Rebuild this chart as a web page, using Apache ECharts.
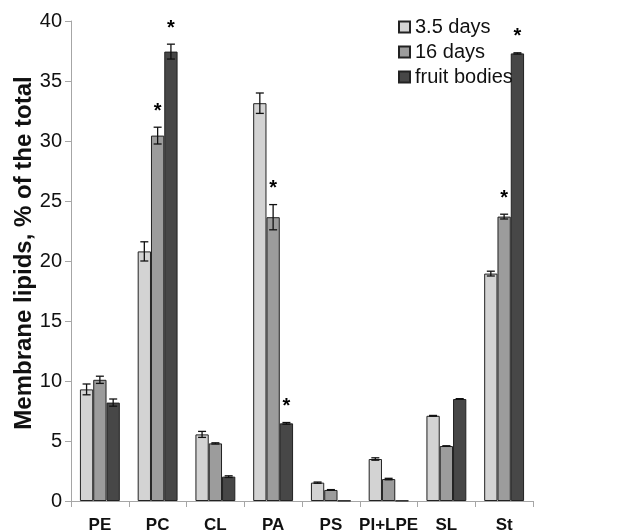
<!DOCTYPE html>
<html>
<head>
<meta charset="utf-8">
<script src="https://cdn.jsdelivr.net/npm/echarts@6/dist/echarts.min.js"></script>
<style>
html,body{margin:0;padding:0;background:#fff;}
#chart{width:619px;height:531px;}
</style>
</head>
<body>
<div id="chart"></div>
<script>
const categories = ['PE', 'PC', 'CL', 'PA', 'PS', 'PI+LPE', 'SL', 'St'];
const seriesNames = ['3.5 days', '16 days', 'fruit bodies'];
const yTitle = 'Membrane lipids, % of the total';
const days35 = [9.3, 20.8, 5.55, 33.15, 1.53, 3.5, 7.1, 18.95];
const err35 = [0.45, 0.8, 0.25, 0.85, 0.05, 0.1, 0.03, 0.2];
const days16 = [10.1, 30.45, 4.8, 23.65, 0.92, 1.83, 4.58, 23.7];
const err16 = [0.3, 0.7, 0.05, 1.05, 0.03, 0.06, 0.02, 0.2];
const fruit = [8.2, 37.45, 2.03, 6.47, 0.03, 0.03, 8.5, 37.3];
const errFruit = [0.3, 0.62, 0.07, 0.07, 0, 0, 0.03, 0.05];
const star35 = [0, 0, 0, 0, 0, 0, 0, 0];
const star16 = [0, 1, 0, 1, 0, 0, 0, 1];
const starFruit = [0, 1, 0, 1, 0, 0, 0, 1];
const yTicks = [0, 5, 10, 15, 20, 25, 30, 35, 40];

const values = [days35, days16, fruit];
const errors = [err35, err16, errFruit];
const stars = [star35, star16, starFruit];
const colors = ['#d3d3d3', '#9c9c9c', '#474747'];
const BAR_W = 13.3;
const FONT = '"Liberation Sans", Arial, sans-serif';

const errData = [];
values.forEach((arr, s) => {
  arr.forEach((v, i) => {
    errData.push([i, v, errors[s][i], s, stars[s][i]]);
  });
});

const chart = echarts.init(document.getElementById('chart'), null, {renderer: 'canvas'});

const barSeries = values.map((arr, s) => ({
  name: seriesNames[s],
  type: 'bar',
  data: arr,
  barWidth: BAR_W,
  barGap: '0%',
  itemStyle: {color: colors[s], borderColor: '#222', borderWidth: 1},
  emphasis: {disabled: true},
  animation: false
}));

const errSeries = {
  type: 'custom',
  name: 'err',
  data: errData,
  encode: {x: 0, y: 1},
  z: 5,
  animation: false,
  silent: true,
  renderItem: function (params, api) {
    const x = api.value(0), v = api.value(1), e = api.value(2), s = api.value(3), star = api.value(4);
    const c = api.coord([x, v]);
    const top = api.coord([x, v + e]);
    const bot = api.coord([x, v - e]);
    const cx = c[0] + (s - 1) * BAR_W;
    const children = [];
    const st = {stroke: '#111', lineWidth: 1.3};
    if (e > 0) {
      children.push({type: 'line', shape: {x1: cx, y1: top[1], x2: cx, y2: bot[1]}, style: st});
      children.push({type: 'line', shape: {x1: cx - 4, y1: top[1], x2: cx + 4, y2: top[1]}, style: st});
      children.push({type: 'line', shape: {x1: cx - 4, y1: bot[1], x2: cx + 4, y2: bot[1]}, style: st});
    }
    if (star) {
      children.push({
        type: 'text',
        style: {
          text: '*', x: cx, y: top[1] - 16,
          align: 'center', verticalAlign: 'middle',
          font: 'bold 20px ' + FONT, fill: '#000'
        }
      });
    }
    return {type: 'group', children: children};
  }
};

chart.setOption({
  backgroundColor: '#fff',
  animation: false,
  grid: {left: 71, right: 86, top: 21, bottom: 30, containLabel: false, outerBoundsMode: 'none'},
  graphic: [{
    type: 'text',
    x: 24,
    y: 253,
    rotation: Math.PI / 2,
    silent: true,
    style: {
      text: yTitle,
      align: 'center',
      verticalAlign: 'middle',
      font: 'bold 24px ' + FONT,
      fill: '#111'
    }
  }],
  legend: {
    data: seriesNames,
    orient: 'vertical',
    left: 393,
    top: 12,
    itemWidth: 11,
    itemHeight: 11,
    itemGap: 5,
    icon: 'rect',
    textStyle: {fontSize: 20, fontFamily: FONT, color: '#111'},
    selectedMode: false
  },
  xAxis: {
    type: 'category',
    data: categories,
    boundaryGap: true,
    axisLine: {lineStyle: {color: '#a6a6a6', width: 1}},
    axisTick: {show: true, alignWithLabel: false, length: 6, lineStyle: {color: '#a6a6a6'}},
    axisLabel: {fontSize: 17, fontWeight: 'bold', fontFamily: FONT, color: '#111', margin: 16, interval: 0},
    splitLine: {show: false}
  },
  yAxis: {
    type: 'value',
    min: yTicks[0],
    max: yTicks[yTicks.length - 1],
    interval: 5,
    axisLine: {show: true, lineStyle: {color: '#a6a6a6', width: 1}},
    axisTick: {show: true, length: 6, lineStyle: {color: '#a6a6a6'}},
    axisLabel: {fontSize: 20, fontFamily: FONT, color: '#111', margin: 9},
    splitLine: {show: false}
  },
  series: barSeries.concat([errSeries])
});
</script>
</body>
</html>
